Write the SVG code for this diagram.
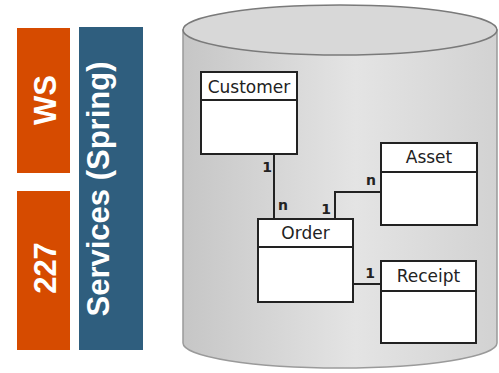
<svg xmlns="http://www.w3.org/2000/svg" width="499" height="373" viewBox="0 0 499 373">
<defs>
<linearGradient id="body" x1="0" y1="0" x2="1" y2="0">
<stop offset="0" stop-color="#c6c6c6"/>
<stop offset="0.55" stop-color="#e4e4e4"/>
<stop offset="1" stop-color="#d2d2d2"/>
</linearGradient>
<style>
.tag{font-family:"Liberation Sans",Arial,sans-serif;font-weight:bold;font-size:31px;fill:#ffffff;text-anchor:middle}
.box{fill:#ffffff;stroke:#222222;stroke-width:2}
.div{stroke:#222222;stroke-width:2}
.name{font-family:"DejaVu Sans",sans-serif;font-size:17px;fill:#222222;text-anchor:middle}
.card{font-family:"DejaVu Sans",sans-serif;font-size:14px;font-weight:bold;fill:#222222;text-anchor:middle}
.conn{fill:none;stroke:#222222;stroke-width:2}
</style>
</defs>
<rect width="499" height="373" fill="#ffffff"/>
<g id="ws">
<rect x="17" y="28" width="53" height="145" fill="#d64b00"/>
<text class="tag" transform="translate(56,100) rotate(-90)">WS</text>
</g>
<g id="n227">
<rect x="17" y="191" width="53" height="159" fill="#d64b00"/>
<text class="tag" transform="translate(56,268) rotate(-90)">227</text>
</g>
<g id="services">
<rect x="79" y="27" width="64" height="323" fill="#2f5e7e"/>
<text class="tag" transform="translate(109,189) rotate(-90)">Services (Spring)</text>
</g>
<g id="database">
<path d="M183,30 L183,343 A157,25 0 0 0 497,343 L497,30 Z" fill="url(#body)" stroke="#9a9a9a" stroke-width="1.5"/>
<ellipse cx="340" cy="30" rx="157" ry="25" fill="#d8d8d8" stroke="#7a7a7a" stroke-width="1.5"/>
</g>
<g id="connectors">
<path class="conn" d="M274,154 L274,219"/>
<path class="conn" d="M335,219 L335,192 L381,192"/>
<path class="conn" d="M353,284 L381,284"/>
<text class="card" x="267" y="172">1</text>
<text class="card" x="283" y="210">n</text>
<text class="card" x="326" y="214">1</text>
<text class="card" x="371" y="185">n</text>
<text class="card" x="370" y="278">1</text>
</g>
<g id="customer">
<rect class="box" x="201" y="72" width="96" height="82"/>
<line class="div" x1="201" y1="100" x2="297" y2="100"/>
<text class="name" x="249" y="93">Customer</text>
</g>
<g id="order">
<rect class="box" x="258" y="219" width="95" height="83"/>
<line class="div" x1="258" y1="247" x2="353" y2="247"/>
<text class="name" x="305.5" y="239">Order</text>
</g>
<g id="asset">
<rect class="box" x="381" y="143" width="96" height="82"/>
<line class="div" x1="381" y1="172" x2="477" y2="172"/>
<text class="name" x="429" y="163">Asset</text>
</g>
<g id="receipt">
<rect class="box" x="381" y="261" width="95" height="82"/>
<line class="div" x1="381" y1="291" x2="476" y2="291"/>
<text class="name" x="428.5" y="282">Receipt</text>
</g>
</svg>
